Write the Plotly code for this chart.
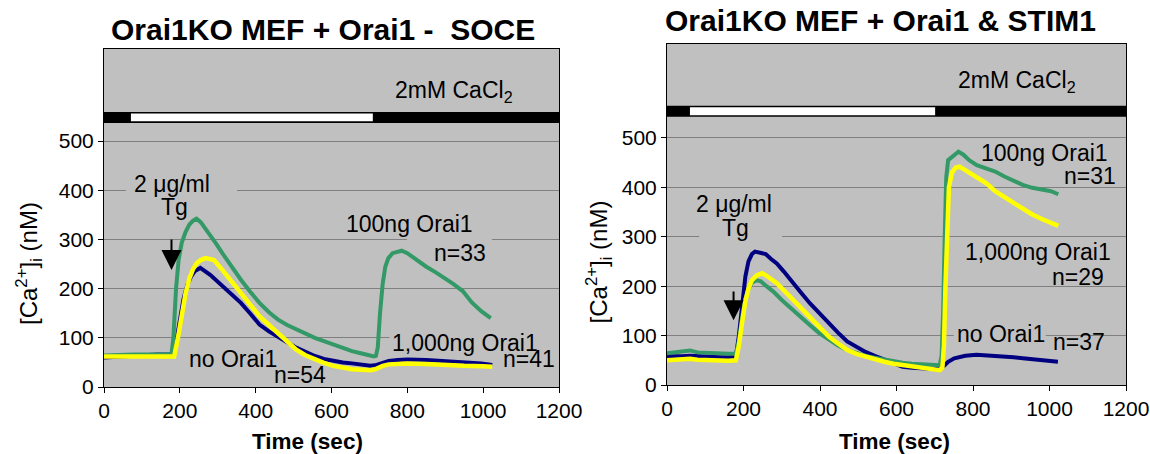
import plotly.graph_objects as go

FONT = "Liberation Sans, Arial, sans-serif"

# ---------------- Left panel: Orai1KO MEF + Orai1 - SOCE ----------------
L_blue_t = [0, 20, 40, 60, 80, 100, 120, 140, 160, 182, 190, 200, 210, 220, 230, 240, 254,
            280, 312, 340, 361, 385, 410, 435, 459, 483, 507, 530, 556, 580, 605, 630, 654,
            680, 702, 715, 722, 735, 751, 775, 800, 850, 898, 950, 995, 1024]
L_blue_y = [60, 61, 63, 64, 64, 65, 65, 66, 66, 66, 90, 140, 180, 208, 225, 236, 242,
            228, 205, 187, 171, 150, 127, 113, 103, 91, 80, 71, 63, 57, 53, 50, 48,
            45, 43, 44, 46, 50, 53, 55, 56, 55, 53, 50, 48, 45]

L_green_t = [0, 20, 40, 60, 80, 100, 120, 140, 160, 178, 183, 190, 197, 205, 215, 225, 235,
             244, 255, 270, 283, 297, 312, 336, 361, 385, 410, 435, 459, 483, 507, 530, 556,
             580, 605, 630, 654, 680, 702, 712, 717, 722, 728, 735, 742, 750, 761, 775, 785,
             800, 825, 849, 875, 898, 920, 946, 970, 995, 1010, 1020]
L_green_y = [64, 65, 66, 67, 66, 66, 66, 66, 66, 66, 100, 200, 260, 293, 315, 330, 338,
             342, 335, 320, 306, 290, 272, 245, 218, 194, 171, 152, 137, 126, 117, 108, 100,
             93, 86, 79, 73, 68, 63, 62, 63, 80, 150, 210, 245, 262, 272, 276, 277,
             272, 258, 245, 233, 222, 210, 195, 172, 154, 145, 140]

L_yellow_t = [0, 20, 40, 60, 80, 100, 120, 140, 160, 185, 195, 205, 215, 225, 235, 245, 255,
              268, 290, 312, 336, 361, 385, 410, 435, 459, 483, 507, 530, 556, 580, 605, 630,
              654, 680, 702, 715, 722, 735, 751, 775, 800, 850, 898, 950, 1000, 1024]
L_yellow_y = [62, 62, 62, 61, 62, 62, 62, 61, 61, 62, 100, 150, 190, 220, 240, 252, 258,
              262, 258, 238, 215, 191, 167, 144, 126, 110, 92, 76, 65, 56, 49, 43, 39,
              36, 35, 34, 36, 39, 43, 46, 47, 48, 47, 44, 43, 42, 41]

# ---------------- Right panel: Orai1KO MEF + Orai1 & STIM1 ----------------
R_blue_t = [0, 20, 40, 60, 80, 100, 120, 140, 160, 180, 188, 197, 205, 213, 222, 230, 245,
            258, 272, 287, 305, 326, 350, 374, 398, 423, 447, 471, 495, 519, 543, 568, 592,
            616, 640, 664, 690, 713, 718, 722, 735, 751, 780, 809, 835, 858, 882, 906, 930,
            954, 980, 1000, 1022]
R_blue_y = [58, 57, 58, 59, 58, 57, 57, 56, 56, 57, 100, 170, 220, 250, 265, 270, 268,
            265, 255, 246, 230, 209, 187, 165, 145, 125, 106, 88, 77, 67, 59, 51, 44,
            37, 35, 34, 33, 32, 34, 37, 47, 54, 59, 61, 60, 59, 58, 56, 54,
            52, 50, 49, 47]

R_green_t = [0, 20, 40, 60, 80, 100, 120, 140, 160, 180, 188, 197, 205, 213, 222, 234, 245,
             260, 278, 300, 326, 350, 374, 398, 423, 447, 471, 495, 519, 543, 568, 592, 616,
             640, 664, 690, 713, 718, 722, 726, 730, 735, 745, 755, 762, 775, 790, 810, 835,
             858, 882, 907, 930, 955, 980, 1004, 1023]
R_green_y = [64, 66, 68, 70, 66, 65, 64, 63, 63, 63, 90, 140, 175, 195, 207, 212, 210,
             200, 189, 172, 155, 137, 121, 105, 91, 80, 71, 64, 59, 55, 51, 48, 45,
             43, 42, 41, 40, 60, 150, 300, 420, 455, 462, 468, 472, 466, 455, 445, 438,
             432, 422, 412, 405, 399, 395, 392, 386]

R_yellow_t = [0, 20, 40, 60, 80, 100, 120, 140, 160, 180, 188, 197, 205, 213, 222, 235, 249,
              262, 275, 287, 305, 326, 350, 374, 398, 423, 447, 471, 495, 519, 543, 568, 592,
              616, 640, 664, 690, 713, 720, 724, 728, 732, 737, 745, 755, 765, 780, 795, 810,
              835, 858, 882, 907, 930, 955, 980, 1004, 1023]
R_yellow_y = [50, 51, 52, 53, 51, 50, 50, 49, 49, 50, 80, 130, 170, 195, 212, 222, 226,
              220, 213, 206, 192, 175, 155, 135, 116, 98, 84, 71, 63, 57, 52, 47, 43,
              40, 38, 36, 33, 30, 35, 80, 200, 330, 400, 430, 440, 442, 435, 428, 422,
              408, 392, 380, 369, 357, 345, 336, 329, 322]

# Solution bar (nominally Ca-free period shown white)
L_ca_free = [71, 709]
R_ca_free = [60, 701]

x_ticks = [0, 200, 400, 600, 800, 1000, 1200]
y_ticks = [0, 100, 200, 300, 400, 500]

BLUE = "#000080"
GREEN = "#339966"
YELLOW = "#FFFF00"
GRID = "#808080"
BG = "#C0C0C0"

fig = go.Figure()


def add(t, y, color, width, xa, ya):
    fig.add_trace(go.Scatter(x=t, y=y, mode="lines",
                             line=dict(color=color, width=width, shape="linear"),
                             xaxis=xa, yaxis=ya, hoverinfo="skip", showlegend=False))


add(L_blue_t, L_blue_y, BLUE, 4, "x", "y")
add(L_green_t, L_green_y, GREEN, 4, "x", "y")
add(L_yellow_t, L_yellow_y, YELLOW, 4.5, "x", "y")
add(R_blue_t, R_blue_y, BLUE, 4, "x2", "y2")
add(R_green_t, R_green_y, GREEN, 4, "x2", "y2")
add(R_yellow_t, R_yellow_y, YELLOW, 4.5, "x2", "y2")

axis_common = dict(showline=True, linecolor="black", linewidth=1, mirror=True,
                   ticks="outside", ticklen=5, tickcolor="black", tickwidth=1,
                   tickfont=dict(family=FONT, size=21, color="black"),
                   zeroline=False, automargin=False)

fig.update_layout(
    width=1150, height=454,
    margin=dict(l=0, r=0, t=0, b=0),
    paper_bgcolor="white", plot_bgcolor=BG,
    template="none",
    showlegend=False,
    xaxis=dict(domain=[104 / 1150, 559 / 1150], range=[0, 1200], tickvals=x_ticks,
               showgrid=False, anchor="y", **axis_common),
    yaxis=dict(domain=[(454 - 387) / 454, (454 - 49) / 454], range=[0, 687], tickvals=y_ticks,
               showgrid=True, gridcolor=GRID, gridwidth=1, anchor="x", **axis_common),
    xaxis2=dict(domain=[667 / 1150, 1126 / 1150], range=[0, 1200], tickvals=x_ticks,
                showgrid=False, anchor="y2", **axis_common),
    yaxis2=dict(domain=[(454 - 385) / 454, (454 - 44) / 454], range=[0, 690], tickvals=y_ticks,
                showgrid=True, gridcolor=GRID, gridwidth=1, anchor="x2", **axis_common),
)

shapes = []
# gridline masks behind text boxes
for xr, yr, x0, x1, yc in [("x", "y", 58, 351, 400), ("x", "y", 753, 1200, 100),
                           ("x", "y", 799, 1023, 300),
                           ("x2", "y2", 84, 301, 300), ("x2", "y2", 750, 990, 100)]:
    shapes.append(dict(type="rect", xref=xr, yref=yr, x0=x0, x1=x1, y0=yc - 4, y1=yc + 4,
                       fillcolor=BG, line=dict(width=0), layer="between"))
# solution bars
for xr, yr, yc, seg in [("x", "y", 548, L_ca_free), ("x2", "y2", 554, R_ca_free)]:
    shapes.append(dict(type="rect", xref=xr, yref=yr, x0=-5, x1=1230, y0=yc - 11.2, y1=yc + 11.2,
                       fillcolor="black", line=dict(width=0), layer="above"))
    shapes.append(dict(type="rect", xref=xr, yref=yr, x0=seg[0], x1=seg[1], y0=yc - 8, y1=yc + 8,
                       fillcolor="white", line=dict(width=0), layer="above"))
fig.update_layout(shapes=shapes)

ann = []


def txt(text, x, y, xr, yr, size=23, **kw):
    d = dict(text=text, x=x, y=y, xref=xr, yref=yr, showarrow=False,
             xanchor="center", yanchor="middle",
             font=dict(family=FONT, size=size, color="black"))
    d.update(kw)
    ann.append(d)


# titles
txt("<b>Orai1KO MEF + Orai1 -\u00a0 SOCE</b>", 323 / 1150, (454 - 30) / 454, "paper", "paper", size=30)
txt("<b>Orai1KO MEF + Orai1 &amp; STIM1</b>", 880 / 1150, (454 - 20) / 454, "paper", "paper", size=30)
# axis titles
txt("<b>Time (sec)</b>", 538, (454 - 441) / 454, "x", "paper", size=22.5)
txt("<b>Time (sec)</b>", 596, (454 - 441) / 454, "x2", "paper", size=22.5)
txt("[Ca<sup>2+</sup>]<sub>i</sub> (nM)", 29 / 1150, 250, "paper", "y", size=24, textangle=-90)
txt("[Ca<sup>2+</sup>]<sub>i</sub> (nM)", 599 / 1150, 250, "paper", "y2", size=24, textangle=-90)

# left panel labels
txt("2mM CaCl<sub>2</sub>", 923, 600, "x", "y")
txt("2 \u03bcg/ml", 180, 412, "x", "y")
txt("Tg", 185, 366, "x", "y")
txt("100ng Orai1", 807, 332, "x", "y")
txt("n=33", 939, 273, "x", "y")
txt("1,000ng Orai1", 953, 90, "x", "y")
txt("n=41", 1122, 56, "x", "y")
txt("no Orai1", 341, 57, "x", "y")
txt("n=54", 517, 24, "x", "y")
# right panel labels
txt("2mM CaCl<sub>2</sub>", 914, 615, "x2", "y2")
txt("2 \u03bcg/ml", 176, 366, "x2", "y2")
txt("Tg", 178, 318, "x2", "y2")
txt("100ng Orai1", 987, 469, "x2", "y2")
txt("n=31", 1105, 422, "x2", "y2")
txt("1,000ng Orai1", 971, 270, "x2", "y2")
txt("n=29", 1075, 219, "x2", "y2")
txt("no Orai1", 872, 104, "x2", "y2")
txt("n=37", 1078, 88, "x2", "y2")

# Tg application arrows
for xr, yr, xa, y_tip, y_tail in [("x", "y", 178, 238, 303), ("x2", "y2", 174, 131, 192)]:
    ann.append(dict(text="", x=xa, y=y_tip, ax=xa, ay=y_tail, xref=xr, yref=yr,
                    axref=xr, ayref=yr, showarrow=True, arrowhead=2, arrowsize=2,
                    arrowwidth=2, arrowcolor="black"))

fig.update_layout(annotations=ann)
fig.write_html("out.html")
